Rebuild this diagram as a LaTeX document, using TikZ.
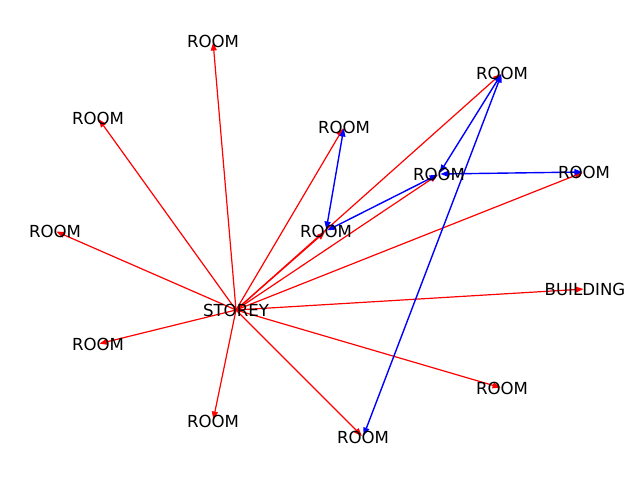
\documentclass[tikz,border=0pt]{standalone}
\usepackage{fontspec}
\setmainfont{DejaVu Sans}
\usepackage{tikz}
\usetikzlibrary{arrows.meta,backgrounds}

\begin{document}
\begin{tikzpicture}[
		x=1pt, y=-1pt,
		labelnode/.style={inner sep=0pt, font=\fontsize{16.6}{20}\selectfont},
		redline/.style={red, line width=1.2pt, -{Triangle[length=8pt,width=6pt]}, shorten >=1.5pt},
		blueline/.style={blue, line width=1.4pt, {Triangle[length=8pt,width=6pt]}-{Triangle[length=8pt,width=6pt]}, shorten >=1.5pt, shorten <=1.5pt},
		]
		\useasboundingbox (0,0) rectangle (640,480);
		%Nodes
		\node[labelnode] (s)  at (236,310) {STOREY};
		\node[labelnode] (r1) at (213,41)  {ROOM};
		\node[labelnode] (r2) at (98,118)  {ROOM};
		\node[labelnode] (r3) at (55,231)  {ROOM};
		\node[labelnode] (r4) at (98,344)  {ROOM};
		\node[labelnode] (r5) at (213,421) {ROOM};
		\node[labelnode] (r6) at (363,437) {ROOM};
		\node[labelnode] (r7) at (502,388) {ROOM};
		\node[labelnode] (b)  at (585,289) {BUILDING};
		\node[labelnode] (r8) at (584,172) {ROOM};
		\node[labelnode] (r9) at (502,73)  {ROOM};
		\node[labelnode] (r10) at (344,127) {ROOM};
		\node[labelnode] (r11) at (439,174) {ROOM};
		\node[labelnode] (r12) at (326,231) {ROOM};
		
		%Lines
		\begin{pgfonlayer}{background}
		\foreach \r in {r1,r2,r3,r4,r5,r6,r7,b,r8,r9,r10,r11,r12}
			\draw[redline] (s.center) -- (\r.center);
		\draw[blueline] (r12.center) -- (r10.center);
		\draw[blueline] (r12.center) -- (r11.center);
		\draw[blueline] (r11.center) -- (r8.center);
		\draw[blueline] (r11.center) -- (r9.center);
		\draw[blueline] (r6.center) -- (r9.center);
		\end{pgfonlayer}
		\end{tikzpicture}
\end{document}
